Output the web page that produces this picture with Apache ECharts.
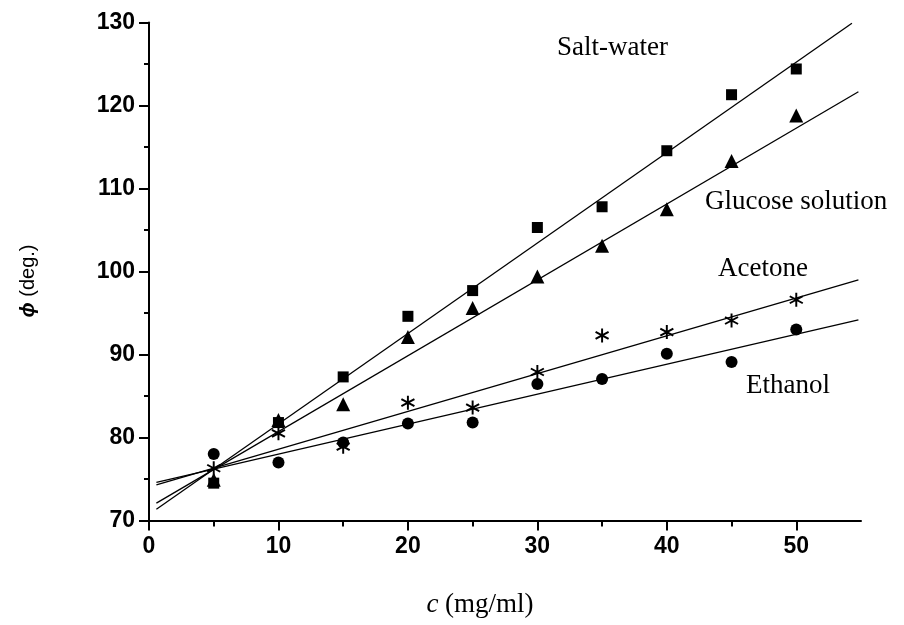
<!DOCTYPE html>
<html>
<head>
<meta charset="utf-8">
<script src="https://cdn.jsdelivr.net/npm/echarts@6/dist/echarts.min.js"></script>
<style>html,body{margin:0;padding:0;background:#fff;}#c{width:904px;height:625px;}</style>
</head>
<body>
<div id="c"></div>
<script>
// concentration c (mg/ml)
const xValues = [5, 10, 15, 20, 25, 30, 35, 40, 45, 50];
// phi (deg.) per solution
const saltWater = [74.5, 81.8, 87.3, 94.6, 97.7, 105.3, 107.8, 114.55, 121.3, 124.4];
const glucose   = [74.9, 82.1, 84.0, 92.1, 95.6, 99.4, 103.1, 107.5, 113.3, 118.8];
const acetone   = [76.3, 80.5, 78.9, 84.2, 83.6, 87.9, 92.3, 92.7, 94.1, 96.6];
const ethanol   = [78.0, 77.0, 79.4, 81.7, 81.8, 86.45, 87.05, 90.1, 89.1, 93.0];
// fitted straight lines (end points)
const saltFit    = [[0.57, 71.35], [54.3, 129.9]];
const glucoseFit = [[0.57, 72.1], [54.8, 121.66]];
const acetoneFit = [[0.57, 74.3], [54.8, 99.0]];
const ethanolFit = [[0.57, 74.6], [54.8, 94.16]];
// ticks
const xMajorTicks = [0, 10, 20, 30, 40, 50];
const xMinorTicks = [5, 15, 25, 35, 45];

const starPath = 'path://M8.7,0 L11.3,0 L11.3,20 L8.7,20 Z M1.99,3.87 L19.31,13.87 L18.01,16.13 L0.69,6.13 Z M0.69,13.87 L18.01,3.87 L19.31,6.13 L1.99,16.13 Z';

const pair = arr => xValues.map((x, i) => [x, arr[i]]);
const lineStyle = { color: '#000', width: 1.3 };
const fitSeries = d => ({ type: 'line', data: d, symbol: 'none', lineStyle, silent: true, z: 2, animation: false });
const scat = (d, symbol, size) => ({ type: 'scatter', data: pair(d), symbol, symbolSize: size, itemStyle: { color: '#000', opacity: 1 }, z: 3, animation: false });

const chart = echarts.init(document.getElementById('c'));
const labelFont = { fontFamily: 'Liberation Sans', fontWeight: 'bold', fontSize: 23, color: '#000' };
chart.setOption({
  animation: false,
  backgroundColor: '#fff',
  grid: { left: 149, right: 43, top: 22.5, bottom: 104.5, containLabel: false, outerBoundsMode: 'none' },
  xAxis: [
    {
      type: 'value', min: 0, max: 55, interval: 5,
      axisLine: { show: true, lineStyle: { color: '#000', width: 2 } },
      axisTick: { show: true, length: 10, customValues: xMajorTicks, lineStyle: { color: '#000', width: 2 } },
      axisLabel: Object.assign({ margin: 15, customValues: xMajorTicks }, labelFont),
      splitLine: { show: false }
    },
    {
      type: 'value', min: 0, max: 55, interval: 5, position: 'bottom', gridIndex: 0,
      axisLine: { show: false },
      axisTick: { show: true, length: 6, customValues: xMinorTicks, lineStyle: { color: '#000', width: 2 } },
      axisLabel: { show: false },
      splitLine: { show: false }
    }
  ],
  yAxis: {
    type: 'value', min: 70, max: 130, interval: 10,
    axisLine: { show: true, lineStyle: { color: '#000', width: 2 } },
    axisTick: { show: true, length: 10, lineStyle: { color: '#000', width: 2 } },
    minorTick: { show: true, splitNumber: 2, length: 5, lineStyle: { color: '#000', width: 2 } },
    axisLabel: Object.assign({ margin: 14 }, labelFont),
    splitLine: { show: false }
  },
  series: [
    fitSeries(saltFit), fitSeries(glucoseFit), fitSeries(acetoneFit), fitSeries(ethanolFit),
    scat(saltWater, 'rect', 11),
    scat(glucose, 'triangle', 14),
    scat(acetone, starPath, 14),
    scat(ethanol, 'circle', 12)
  ],
  graphic: [
    { type: 'text', left: 557, top: 34, style: { text: 'Salt-water', font: '27px "Liberation Serif"', fill: '#000' } },
    { type: 'text', left: 705, top: 188, style: { text: 'Glucose solution', font: '27px "Liberation Serif"', fill: '#000' } },
    { type: 'text', left: 718, top: 255, style: { text: 'Acetone', font: '27px "Liberation Serif"', fill: '#000' } },
    { type: 'text', left: 746, top: 372, style: { text: 'Ethanol', font: '27px "Liberation Serif"', fill: '#000' } },
    { type: 'text', x: 480, y: 605, style: {
        text: '{i|c} (mg/ml)', align: 'center', verticalAlign: 'middle',
        font: '27px "Liberation Serif"', fill: '#000',
        rich: { i: { fontStyle: 'italic', fontFamily: 'Liberation Serif', fontSize: 27 } }
      } },
    { type: 'text', x: 28, y: 281, rotation: Math.PI / 2, style: {
        text: '{p|ϕ} (deg.)', align: 'center', verticalAlign: 'middle',
        font: '20px "Liberation Sans"', fill: '#000',
        rich: { p: { fontStyle: 'italic', fontWeight: 'bold', fontFamily: 'Liberation Sans', fontSize: 20 } }
      } }
  ]
});
</script>
</body>
</html>
